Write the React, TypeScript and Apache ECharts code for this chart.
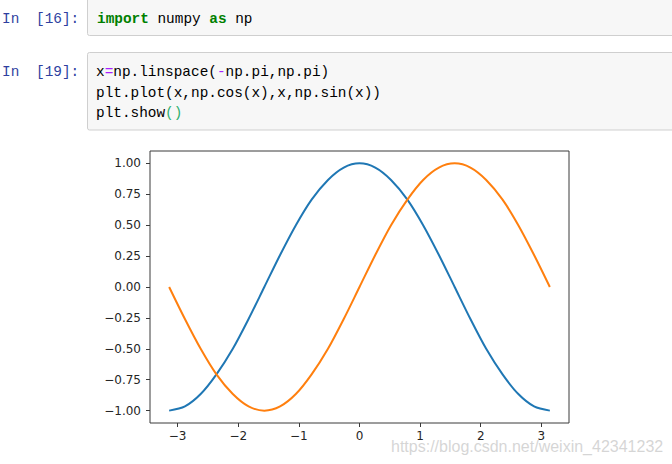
import React, { useEffect, useRef } from "react";
import * as echarts from "echarts";

// x from -pi to pi, with cos(x) and sin(x) readings
const X = [-3.14, -2.88, -2.62, -2.36, -2.09, -1.83, -1.57, -1.31, -1.05, -0.79, -0.52, -0.26, 0,
  0.26, 0.52, 0.79, 1.05, 1.31, 1.57, 1.83, 2.09, 2.36, 2.62, 2.88, 3.14];
const COS = [-1, -0.966, -0.866, -0.707, -0.5, -0.259, 0, 0.259, 0.5, 0.707, 0.866, 0.966, 1,
  0.966, 0.866, 0.707, 0.5, 0.259, 0, -0.259, -0.5, -0.707, -0.866, -0.966, -1];
const SIN = [0, -0.259, -0.5, -0.707, -0.866, -0.966, -1, -0.966, -0.866, -0.707, -0.5, -0.259, 0,
  0.259, 0.5, 0.707, 0.866, 0.966, 1, 0.966, 0.866, 0.707, 0.5, 0.259, 0];
const X_TICKS = [-3, -2, -1, 0, 1, 2, 3];
const Y_TICKS = [-1, -0.75, -0.5, -0.25, 0, 0.25, 0.5, 0.75, 1];

const PROMPTS = ["[16]:", "[19]:"];
const CELL1 = [[["import", "kw"], [" numpy ", "n"], ["as", "kw"], [" np", "n"]]];
const CELL2 = [
  [["x", "n"], ["=", "op"], ["np.linspace(", "n"], ["-", "op"], ["np.pi,np.pi)", "n"]],
  [["plt.plot(x,np.cos(x),x,np.sin(x))", "n"]],
  [["plt.show", "n"], ["()", "br"]],
];

const MONO = "'Liberation Mono', 'DejaVu Sans Mono', monospace";
const CW = 8.64;
const COLORS: Record<string, string> = { kw: "#008000", n: "#000000", op: "#AA22FF", br: "#2eaf6f" };

function codeLine(tokens: string[][], x0: number, y: number) {
  const out: any[] = [];
  let col = 0;
  for (const [t, k] of tokens) {
    out.push({
      type: "text",
      x: x0 + col * CW,
      y,
      style: {
        text: t,
        fill: COLORS[k],
        font: `${k === "kw" ? "bold " : ""}14.4px ${MONO}`,
        textVerticalAlign: "middle",
      },
    });
    col += t.length;
  }
  return out;
}

const fmt = (v: number, d: number) => (v < 0 ? "\u2212" : "") + Math.abs(v).toFixed(d);

export default function App() {
  const ref = useRef<HTMLDivElement>(null);
  useEffect(() => {
    const chart = echarts.init(ref.current!, null, { renderer: "svg" });
    const promptStyle = (text: string, x: number, y: number) => ({
      type: "text",
      x,
      y,
      style: { text, fill: "#303F9F", font: `14.4px ${MONO}`, textVerticalAlign: "middle" },
    });
    const graphics: any[] = [
      { type: "rect", shape: { x: 87.5, y: -2, width: 620, height: 37.5, r: 2 }, style: { fill: "#f7f7f7", stroke: "#cfcfcf", lineWidth: 1 } },
      { type: "rect", shape: { x: 87.5, y: 52.5, width: 620, height: 77.5, r: 2 }, style: { fill: "#f7f7f7", stroke: "#cfcfcf", lineWidth: 1 } },
      promptStyle("In", 2, 19),
      promptStyle(PROMPTS[0], 36, 19),
      promptStyle("In", 2, 72),
      promptStyle(PROMPTS[1], 36, 72),
      ...codeLine(CELL1[0], 97, 19),
      ...codeLine(CELL2[0], 96, 72),
      ...codeLine(CELL2[1], 96, 93),
      ...codeLine(CELL2[2], 96, 113),
      {
        type: "text",
        x: 391,
        y: 446,
        z: 100,
        style: {
          text: "https://blog.csdn.net/weixin_42341232",
          fill: "rgba(200,200,200,0.75)",
          font: "16px 'Liberation Sans', Arial, sans-serif",
          textVerticalAlign: "middle",
        },
      },
    ];
    chart.setOption({
      animation: false,
      backgroundColor: "#ffffff",
      grid: { left: 150, right: 103, top: 151, bottom: 41, show: true, borderColor: "#3a3a3a", borderWidth: 1, backgroundColor: "transparent" },
      xAxis: {
        type: "value",
        min: -3.456,
        max: 3.456,
        axisLine: { show: false, onZero: false },
        splitLine: { show: false },
        axisTick: { show: true, length: 4, lineStyle: { color: "#3a3a3a" }, customValues: X_TICKS },
        axisLabel: {
          customValues: X_TICKS,
          formatter: (v: number) => fmt(v, 0),
          color: "#262626",
          fontFamily: "'DejaVu Sans'",
          fontSize: 12,
          margin: 7,
        },
      },
      yAxis: {
        type: "value",
        min: -1.1,
        max: 1.1,
        axisLine: { show: false, onZero: false },
        splitLine: { show: false },
        axisTick: { show: true, length: 4, lineStyle: { color: "#3a3a3a" }, customValues: Y_TICKS },
        axisLabel: {
          customValues: Y_TICKS,
          formatter: (v: number) => fmt(v, 2),
          color: "#262626",
          fontFamily: "'DejaVu Sans'",
          fontSize: 12,
          margin: 9,
        },
      },
      series: [
        { type: "line", data: X.map((x, i) => [x, COS[i]]), smooth: 0.3, showSymbol: false, lineStyle: { color: "#1f77b4", width: 2 } },
        { type: "line", data: X.map((x, i) => [x, SIN[i]]), smooth: 0.3, showSymbol: false, lineStyle: { color: "#ff7f0e", width: 2 } },
      ],
      graphic: graphics,
    });
    return () => chart.dispose();
  }, []);
  return <div ref={ref} style={{ position: "absolute", left: 0, top: 0, width: 672, height: 464 }} />;
}
